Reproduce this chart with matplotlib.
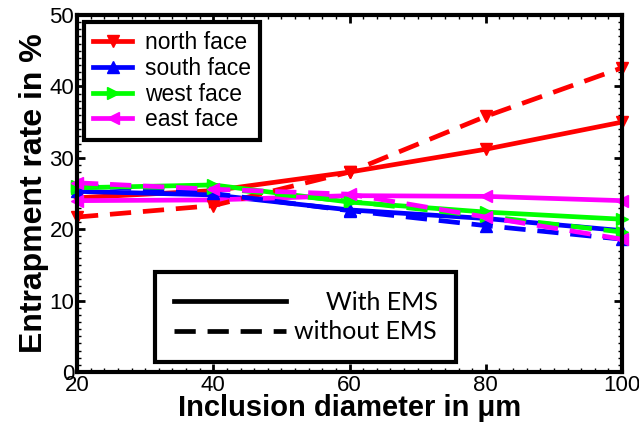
import matplotlib
matplotlib.use("Agg")
import matplotlib.pyplot as plt
from matplotlib.lines import Line2D
from matplotlib.ticker import MultipleLocator

# inclusion diameters (um)
diameter = [20, 40, 60, 80, 100]

# entrapment rate in %, with EMS
north_ems = [24.4, 25.4, 28.0, 31.2, 35.0]
south_ems = [25.3, 24.8, 22.7, 21.5, 19.8]
west_ems = [25.8, 26.2, 23.8, 22.4, 21.4]
east_ems = [24.0, 24.1, 24.7, 24.6, 24.0]

# entrapment rate in %, without EMS
north_no = [21.7, 23.3, 28.0, 35.8, 42.6]
south_no = [26.2, 25.0, 22.6, 20.5, 18.6]
west_no = [26.0, 25.8, 23.9, 21.8, 19.6]
east_no = [26.5, 25.6, 24.9, 21.7, 18.6]

faces = ["north face", "south face", "west face", "east face"]
colors = ["#ff0000", "#0000ff", "#00ff00", "#ff00ff"]
markers = ["v", "^", ">", "<"]

plt.rcParams["font.family"] = ["Liberation Sans", "DejaVu Sans"]

dpi = 100
fig = plt.figure(figsize=(639/dpi, 429/dpi), dpi=dpi)
ax = fig.add_axes([77/639, 1 - 372/429, 545/639, 357/429])

lw = 3.4
ms = 9
dash = (0, (4.5, 2.5))

with_series = [north_ems, south_ems, west_ems, east_ems]
without_series = [north_no, south_no, west_no, east_no]

for ys, c, m in zip(with_series, colors, markers):
    ax.plot(diameter, ys, color=c, lw=lw, marker=m, ms=ms, clip_on=False)
for ys, c, m in zip(without_series, colors, markers):
    ax.plot(diameter, ys, color=c, lw=lw, ls=dash, marker=m, ms=ms, clip_on=False)

ax.set_xlim(20, 100)
ax.set_ylim(0, 50)
ax.xaxis.set_major_locator(MultipleLocator(20))
ax.xaxis.set_minor_locator(MultipleLocator(2))
ax.yaxis.set_major_locator(MultipleLocator(10))
ax.yaxis.set_minor_locator(MultipleLocator(1))
ax.tick_params(which="both", direction="in", top=True, right=True,
               labelsize=16, pad=2)
ax.tick_params(which="major", length=6, width=2)
ax.tick_params(which="minor", length=3, width=1)
for sp in ax.spines.values():
    sp.set_linewidth(3)

ax.set_xlabel("Inclusion diameter in μm", fontsize=21, fontweight="bold", labelpad=-1)
ax.set_ylabel("Entrapment rate in %", fontsize=23, fontweight="bold")
ax.yaxis.set_label_coords(-0.052, 0.5)

# face legend (colour + marker)
face_handles = [Line2D([], [], color=c, lw=lw, marker=m, ms=ms)
                for c, m in zip(colors, markers)]
leg1 = ax.legend(face_handles, faces, loc="upper left", fontsize=16.5,
                 handlelength=1.7, handletextpad=0.55, labelspacing=0.12,
                 borderpad=0.4, borderaxespad=0.3, fancybox=False,
                 edgecolor="black", framealpha=1)
leg1.get_frame().set_linewidth(3)
ax.add_artist(leg1)

# EMS legend (line style only)
ems_handles = [Line2D([], [], color="black", lw=lw),
               Line2D([], [], color="black", lw=lw, ls=dash)]
leg2 = ax.legend(ems_handles, ["     With EMS", "without EMS"],
                 loc="lower left", bbox_to_anchor=(0.143, 0.028),
                 prop={"family": ["Lato", "DejaVu Sans"], "size": 18},
                 handlelength=4.5, handletextpad=0.3, labelspacing=0.25,
                 borderpad=0.75, borderaxespad=0, fancybox=False,
                 edgecolor="black", framealpha=1)
leg2.get_frame().set_linewidth(3)

fig.savefig("out.png", dpi=dpi)
